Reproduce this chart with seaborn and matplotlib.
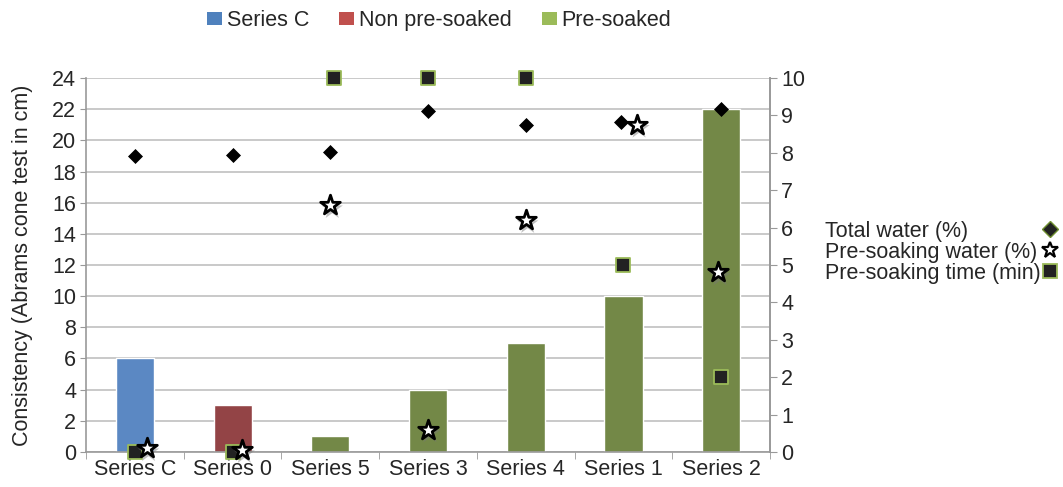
import matplotlib
matplotlib.use("Agg")
import matplotlib.pyplot as plt
from matplotlib.lines import Line2D
from matplotlib.patches import Patch
import seaborn as sns
import pandas as pd

# === Data ===
categories = ["Series C", "Series 0", "Series 5", "Series 3", "Series 4", "Series 1", "Series 2"]
groups = ["Series C", "Non pre-soaked", "Pre-soaked", "Pre-soaked", "Pre-soaked", "Pre-soaked", "Pre-soaked"]
consistency_cm = [6, 3, 1, 4, 7, 10, 22]
total_water = [7.92, 7.95, 8.03, 9.13, 8.75, 8.83, 9.17]
presoak_water = [0.1, 0.05, 6.6, 0.6, 6.2, 8.75, 4.8]
presoak_time = [0, 0, 10, 10, 10, 5, 2]
# small sideways shifts so overlapping markers stay visible
star_dx = [0.12, 0.1, 0.0, 0.0, 0.0, 0.14, -0.03]
square_dx = [0.0, 0.0, 0.04, 0.0, 0.0, 0.0, 0.0]
diamond_dx = [0.0, 0.0, 0.0, 0.0, 0.0, -0.03, 0.0]

bar_colors = {"Series C": "#4a86d4", "Non pre-soaked": "#a0373a", "Pre-soaked": "#77933c"}
legend_colors = {"Series C": "#4f81bd", "Non pre-soaked": "#c0504d", "Pre-soaked": "#9bbb59"}
marker_labels = ["Total water (%)", "Pre-soaking water (%)", "Pre-soaking time (min)"]

df = pd.DataFrame({"cat": categories, "group": groups, "cm": consistency_cm})
xpos = list(range(len(categories)))

sns.set_style("white")
plt.rcParams["font.family"] = ["Liberation Sans", "DejaVu Sans"]
FS = 15.5

fig = plt.figure(figsize=(10.63, 4.87), dpi=100)
ax = fig.add_axes([0.0809, 0.0719, 0.6435, 0.7679])

sns.barplot(data=df, x="cat", y="cm", hue="group", palette=bar_colors, dodge=False,
            width=0.39, order=categories, ax=ax, legend=False, zorder=2)

ax.set_ylim(0, 24)
ax.set_yticks(range(0, 25, 2))
ax.set_xlim(-0.5, 6.5)
ax.yaxis.grid(True, color="#c0c0c0", lw=1.2, zorder=0)
ax.set_axisbelow(True)
ax.set_xlabel("")
ax.set_ylabel("Consistency (Abrams cone test in cm)", fontsize=FS, labelpad=14)
ax.tick_params(axis="y", labelsize=FS, length=4, color="#999999", left=True, pad=3)
ax.tick_params(axis="x", labelsize=FS, length=0, pad=5)
ax.set_xticks([i - 0.5 for i in range(len(categories) + 1)], minor=True)
ax.tick_params(axis="x", which="minor", length=5, color="#999999", bottom=True)
for s in ["left", "bottom", "right"]:
    ax.spines[s].set_color("#999999")
    ax.spines[s].set_linewidth(1.2)
ax.spines["top"].set_visible(False)

ax2 = ax.twinx()
ax2.set_ylim(0, 10)
ax2.set_yticks(range(0, 11))
ax2.tick_params(axis="y", labelsize=FS, length=5, color="#999999", right=True, pad=3)
for s in ["top", "left", "bottom"]:
    ax2.spines[s].set_visible(False)
ax2.spines["right"].set_color("#999999")
ax2.spines["right"].set_linewidth(1.2)

sns.scatterplot(x=[x + d for x, d in zip(xpos, diamond_dx)], y=total_water, marker="D",
                s=50, color="black", edgecolor="black", ax=ax2, zorder=4, clip_on=False)
sns.scatterplot(x=[x + d for x, d in zip(xpos, square_dx)], y=presoak_time, marker="s",
                s=110, color="#222222", edgecolor="#9bbb59", linewidth=1.3, ax=ax2, zorder=5, clip_on=False)
# soft shadow behind the stars
sns.scatterplot(x=[x + d + 0.02 for x, d in zip(xpos, star_dx)], y=[v - 0.1 for v in presoak_water],
                marker="*", s=260, color="#777777", edgecolor="none", alpha=0.45, ax=ax2, zorder=5, clip_on=False)
sns.scatterplot(x=[x + d for x, d in zip(xpos, star_dx)], y=presoak_water, marker="*",
                s=220, color="white", edgecolor="black", linewidth=2.0, ax=ax2, zorder=6, clip_on=False)

# top legend for bar groups
top_handles = [Patch(facecolor=legend_colors[g], edgecolor="none", label=g)
               for g in ["Series C", "Non pre-soaked", "Pre-soaked"]]
fig.legend(handles=top_handles, loc="center", bbox_to_anchor=(0.413, 0.958), ncol=3,
           frameon=False, fontsize=FS, handlelength=0.7, handleheight=0.6,
           handletextpad=0.2, columnspacing=1.4)

# right legend: left-aligned labels, markers in a column to their right
text_handles = [Line2D([], [], ls="", marker="") for _ in marker_labels]
fig.legend(handles=text_handles, labels=marker_labels, loc="center left",
           bbox_to_anchor=(0.7765, 0.482), frameon=False, fontsize=FS,
           handlelength=0, handletextpad=0, labelspacing=0.0, borderpad=0, borderaxespad=0)
marker_handles = [
    Line2D([], [], marker="D", ls="", color="#222222", markersize=8, markeredgecolor="#6f8f30"),
    Line2D([], [], marker="*", ls="", markerfacecolor="white", markeredgecolor="black",
           markersize=12, markeredgewidth=1.6),
    Line2D([], [], marker="s", ls="", markerfacecolor="#222222", markeredgecolor="#9bbb59",
           markersize=10, markeredgewidth=1.3),
]
fig.legend(handles=marker_handles, labels=[" "] * 3, loc="center left",
           bbox_to_anchor=(0.980, 0.482), frameon=False, fontsize=FS,
           handlelength=0.8, handletextpad=0, labelspacing=0.0, borderpad=0, borderaxespad=0)

fig.savefig("out.png", dpi=100)
